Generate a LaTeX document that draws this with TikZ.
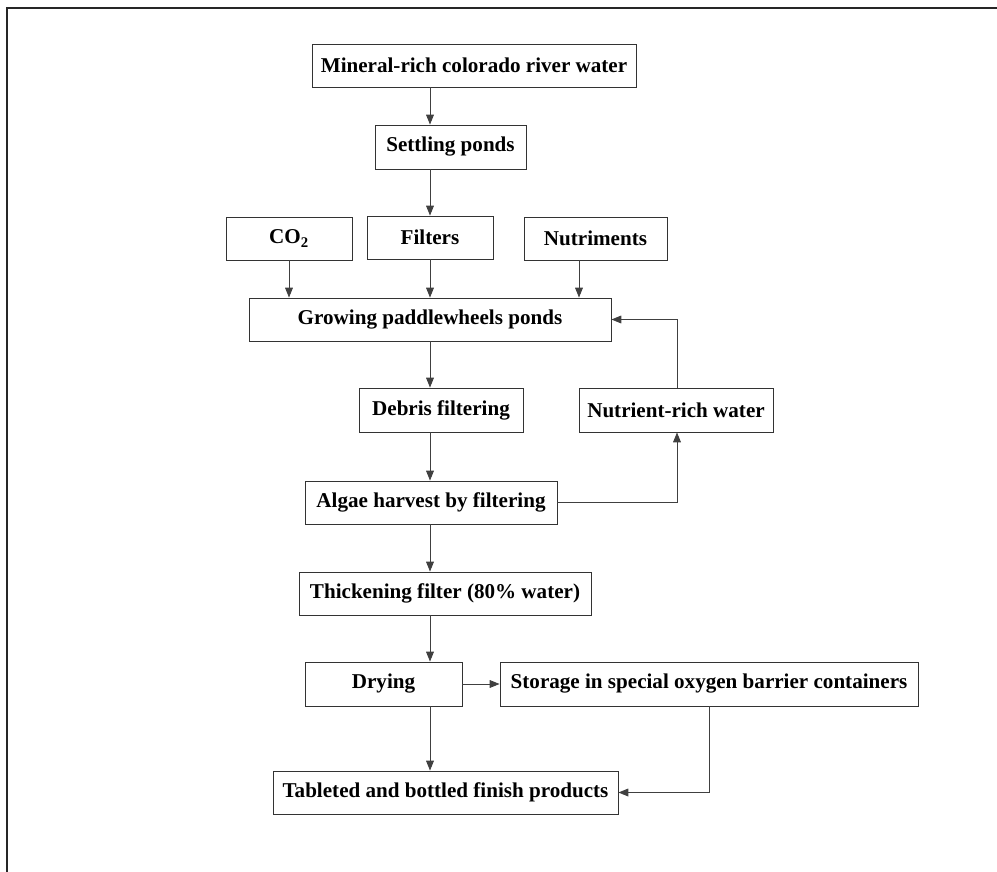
\documentclass[tikz,border=0pt]{standalone}
\usepackage{fontspec}
\setmainfont{Liberation Serif}
\usepackage{tikz}
\usetikzlibrary{positioning}
\usetikzlibrary{arrows.meta}
\usepackage{xcolor}

\tikzset{
  stepbox/.style={draw=black!80, line width=0.6pt, fill=white, inner sep=0pt,
    font=\fontsize{15}{17}\selectfont\bfseries},
  flow/.style={draw=black!75, line width=0.65pt, -{Triangle[length=7pt,width=5.5pt]}}
}

\begin{document}
\begin{tikzpicture}[x=0.025cm, y=-0.025cm]

\useasboundingbox (0,0) rectangle (997,872);

% frame
\draw[black!85, line width=0.8pt] (997,8)--(7,8)--(7,872);

% boxes
\node[stepbox, minimum width=324*0.025cm, minimum height=43*0.025cm] (mineral) at (474,65.5) {Mineral-rich colorado river water};
\node[stepbox, minimum width=151*0.025cm, minimum height=44*0.025cm] (settling) at (450.5,147) {Settling ponds};

\node[stepbox, minimum width=126*0.025cm, minimum height=43*0.025cm] (co2) at (289,238.5) {CO\textsubscript{2}};
\node[stepbox, minimum width=126*0.025cm, minimum height=43*0.025cm] (filters) at (430,237.5) {Filters};
\node[stepbox, minimum width=143*0.025cm, minimum height=43*0.025cm] (nutriments) at (595.5,238.5) {Nutriments};

\node[stepbox, minimum width=362*0.025cm, minimum height=43*0.025cm] (growing) at (430,319.5) {Growing paddlewheels ponds};

\node[stepbox, minimum width=164*0.025cm, minimum height=44*0.025cm] (debris) at (441,410) {Debris filtering};
\node[stepbox, minimum width=194*0.025cm, minimum height=44*0.025cm] (nutrient) at (676,410) {Nutrient-rich water};

\node[stepbox, minimum width=252*0.025cm, minimum height=43*0.025cm] (algae) at (431,502.5) {Algae harvest by filtering};
\node[stepbox, minimum width=292*0.025cm, minimum height=43*0.025cm] (thickening) at (445,593.5) {Thickening filter (80\% water)};

\node[stepbox, minimum width=157*0.025cm, minimum height=44*0.025cm] (drying) at (383.5,684) {Drying};
\node[stepbox, minimum width=418*0.025cm, minimum height=44*0.025cm] (storage) at (709,684) {Storage in special oxygen barrier containers};

\node[stepbox, minimum width=345*0.025cm, minimum height=43*0.025cm] (tableted) at (445.5,792.5) {Tableted and bottled finish products};

% helper columns
\coordinate (col) at (430,0);
\coordinate (colco) at (289,0);
\coordinate (colnu) at (579,0);
\coordinate (colret) at (677,0);
\coordinate (colsto) at (709,0);

% main line
\draw[flow] (mineral.south -| col) -- (settling.north -| col);
\draw[flow] (settling.south -| col) -- (filters.north -| col);
\draw[flow] (filters.south -| col) -- (growing.north -| col);
\draw[flow] (growing.south -| col) -- (debris.north -| col);
\draw[flow] (debris.south -| col) -- (algae.north -| col);
\draw[flow] (algae.south -| col) -- (thickening.north -| col);
\draw[flow] (thickening.south -| col) -- (drying.north -| col);
\draw[flow] (drying.south -| col) -- (tableted.north -| col);

% inputs
\draw[flow] (co2.south -| colco) -- (growing.north -| colco);
\draw[flow] (nutriments.south -| colnu) -- (growing.north -| colnu);

% return loop
\draw[flow] (algae.east) -| (nutrient.south -| colret);
\draw[flow] (nutrient.north -| colret) |- (growing.east);

% storage
\draw[flow] (drying.east) -- (storage.west);
\draw[flow] (storage.south -| colsto) |- (tableted.east);

\end{tikzpicture}
\end{document}
